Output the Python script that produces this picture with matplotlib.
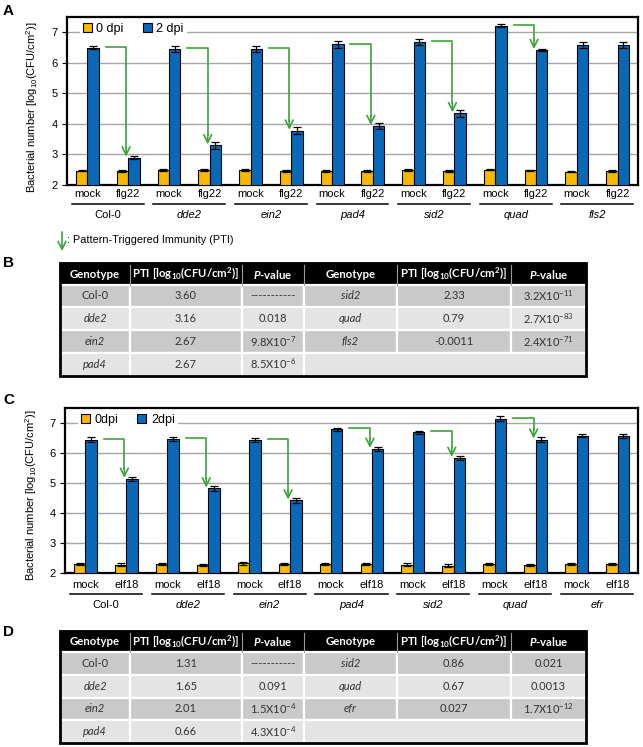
import numpy as np
import matplotlib
matplotlib.use("Agg")
import matplotlib.pyplot as plt
from matplotlib.patches import Rectangle

plt.rcParams['font.family'] = ['Liberation Sans', 'DejaVu Sans']
plt.rcParams['mathtext.fontset'] = 'custom'
plt.rcParams['mathtext.it'] = 'Lato:italic:bold'

W, H = 643, 747
YELLOW = "#f7b800"
BLUE = "#0a68b8"
GREEN = "#3ca33a"

# ---- data -------------------------------------------------------------------
genotypes_A = ["Col-0", "dde2", "ein2", "pad4", "sid2", "quad", "fls2"]
genotypes_C = ["Col-0", "dde2", "ein2", "pad4", "sid2", "quad", "efr"]
treat_A = ["mock", "flg22"]
treat_C = ["mock", "elf18"]

# order: Col-0 mock, Col-0 treated, dde2 mock, ...
A_0dpi = [2.47, 2.46, 2.50, 2.48, 2.48, 2.46, 2.46, 2.46, 2.50, 2.46, 2.50, 2.48, 2.44, 2.47]
A_0dpi_err = [0.02, 0.02, 0.03, 0.03, 0.03, 0.03, 0.02, 0.02, 0.03, 0.02, 0.02, 0.02, 0.03, 0.03]
A_2dpi = [6.50, 2.90, 6.45, 3.30, 6.45, 3.78, 6.60, 3.93, 6.68, 4.35, 7.22, 6.42, 6.57, 6.57]
A_2dpi_err = [0.05, 0.06, 0.10, 0.12, 0.10, 0.11, 0.10, 0.10, 0.09, 0.12, 0.05, 0.04, 0.10, 0.10]

C_0dpi = [2.30, 2.28, 2.30, 2.27, 2.32, 2.31, 2.30, 2.31, 2.28, 2.25, 2.30, 2.27, 2.30, 2.31]
C_0dpi_err = [0.04, 0.04, 0.04, 0.04, 0.04, 0.04, 0.04, 0.04, 0.04, 0.04, 0.04, 0.04, 0.04, 0.04]
C_2dpi = [6.45, 5.14, 6.47, 4.82, 6.43, 4.42, 6.80, 6.14, 6.70, 5.84, 7.14, 6.45, 6.58, 6.56]
C_2dpi_err = [0.07, 0.07, 0.06, 0.07, 0.07, 0.07, 0.05, 0.07, 0.05, 0.07, 0.08, 0.07, 0.06, 0.06]

B_rows = [["Col-0", "3.60", "-----------", "sid2", "2.33", "3.2X10$^{\\mathregular{-11}}$"],
          ["dde2", "3.16", "0.018", "quad", "0.79", "2.7X10$^{\\mathregular{-83}}$"],
          ["ein2", "2.67", "9.8X10$^{\\mathregular{-7}}$", "fls2", "-0.0011", "2.4X10$^{\\mathregular{-71}}$"],
          ["pad4", "2.67", "8.5X10$^{\\mathregular{-6}}$", "", "", ""]]
D_rows = [["Col-0", "1.31", "-----------", "sid2", "0.86", "0.021"],
          ["dde2", "1.65", "0.091", "quad", "0.67", "0.0013"],
          ["ein2", "2.01", "1.5X10$^{\\mathregular{-4}}$", "efr", "0.027", "1.7X10$^{\\mathregular{-12}}$"],
          ["pad4", "0.66", "4.3X10$^{\\mathregular{-4}}$", "", "", ""]]
header = ["Genotype", "PTI [log$_{\\mathregular{10}}$(CFU/cm$^{\\mathregular{2}}$)]", "$\\mathit{P}$-value"] * 2

fig = plt.figure(figsize=(W / 100, H / 100), dpi=100)

def px_axes(l, t, r, b):
    return fig.add_axes([l / W, (H - b) / H, (r - l) / W, (b - t) / H])

def bar_panel(ax, genos, treats, y0, e0, y2, e2, leg, lab_pad, geno_y, line_y):
    n = len(y0)
    x = np.arange(n)
    w = 0.28
    ax.bar(x - w / 2, np.array(y0) - 2, w, bottom=2, color=YELLOW, edgecolor="black",
           lw=0.8, yerr=e0, capsize=2.6, error_kw=dict(elinewidth=0.9, capthick=0.9),
           label=leg[0], zorder=3)
    ax.bar(x + w / 2, np.array(y2) - 2, w, bottom=2, color=BLUE, edgecolor="black",
           lw=0.8, yerr=e2, capsize=2.6, error_kw=dict(elinewidth=0.9, capthick=0.9),
           label=leg[1], zorder=3)
    ax.set_xlim(-0.5, n - 0.5)
    ax.set_ylim(2, 7.5)
    ax.set_yticks([2, 3, 4, 5, 6, 7])
    ax.yaxis.grid(True, color="#a6a6a6", lw=1)
    ax.set_axisbelow(True)
    for s in ax.spines.values():
        s.set_linewidth(1.6)
    ax.tick_params(axis="y", length=3.5, width=0.8, labelsize=8, pad=3)
    ax.set_xticks(x, treats * len(genos), fontsize=8)
    ax.tick_params(axis="x", length=0, pad=lab_pad)
    ax.set_ylabel("Bacterial number [log$_{\\mathregular{10}}$(CFU/cm$^{\\mathregular{2}}$)]", fontsize=8)
    tr = ax.get_xaxis_transform()
    for g, name in enumerate(genos):
        ax.plot([2 * g - 0.38, 2 * g + 1.38], [line_y, line_y], color="black", lw=1.1,
                transform=tr, clip_on=False)
        ax.text(2 * g + 0.5, geno_y, name, transform=tr, ha="center", va="center",
                fontsize=8, style="normal" if name == "Col-0" else "italic")
    # PTI arrows: mock 2dpi -> treated 2dpi
    for g in range(len(genos) - 1):
        m, t = 2 * g, 2 * g + 1
        ym, yt = y2[m] + 0.03, y2[t] + 0.03
        xs, xe = m + 0.45, t - 0.05
        ax.plot([xs, xe, xe], [ym, ym, yt + 0.3], color=GREEN, lw=1.2, zorder=4)
        ax.annotate("", xy=(xe, yt), xytext=(xe, yt + 0.32),
                    arrowprops=dict(arrowstyle="->", color=GREEN, lw=1.2, mutation_scale=14,
                                    shrinkA=0, shrinkB=0), zorder=4)
    lg = ax.legend(loc="upper left", bbox_to_anchor=(0.022, 0.985), ncol=2, fontsize=9,
                   frameon=True, facecolor="white", edgecolor="none", framealpha=1,
                   handlelength=0.75, handleheight=0.75, handletextpad=0.35,
                   columnspacing=1.5, borderpad=0.25, borderaxespad=0, fancybox=False)
    lg.set_zorder(6)

axA = px_axes(67, 17, 638, 185)
bar_panel(axA, genotypes_A, treat_A, A_0dpi, A_0dpi_err, A_2dpi, A_2dpi_err,
          ["0 dpi", "2 dpi"], 3.0, -0.18, -0.113)
axA.yaxis.set_label_coords(-0.048, 0.46)

axC = px_axes(65, 408, 638, 573)
bar_panel(axC, genotypes_C, treat_C, C_0dpi, C_0dpi_err, C_2dpi, C_2dpi_err,
          ["0dpi", "2dpi"], 5.0, -0.195, -0.127)
axC.yaxis.set_label_coords(-0.046, 0.47)

# ---- overlay: panel letters, PTI key, tables ----------------------------------
ov = fig.add_axes([0, 0, 1, 1], zorder=-1)
ov.set_xlim(0, W); ov.set_ylim(H, 0); ov.set_axis_off()
for letter, yy in [("A", 11), ("B", 263), ("C", 400), ("D", 632)]:
    ov.text(3, yy, letter, fontsize=11, fontweight="bold", ha="left", va="center")

ov.annotate("", xy=(62, 251), xytext=(62, 232),
            arrowprops=dict(arrowstyle="->", color=GREEN, lw=1.2, mutation_scale=14,
                            shrinkA=0, shrinkB=0))
ov.text(67, 240, ": Pattern-Triggered Immunity (PTI)", fontsize=7.8, va="center", ha="left")

COLS = [60, 130, 242, 304, 397, 511, 586]
DARK, LIGHT = "#c9c9c9", "#e4e4e4"

def draw_table(top, rows):
    hh, rh = 21.5, 22.75
    ov.add_patch(Rectangle((COLS[0], top), COLS[-1] - COLS[0], hh, color="black", zorder=1))
    for c in range(6):
        cx = (COLS[c] + COLS[c + 1]) / 2
        ov.text(cx, top + hh / 2 + 0.5, header[c], color="white", fontsize=8.2,
                fontweight="bold", family="Lato", ha="center", va="center", zorder=3)
        if c > 0:
            ov.plot([COLS[c], COLS[c]], [top + 1, top + hh], color="#9a9a9a", lw=0.8, zorder=2)
    for r, row in enumerate(rows):
        y = top + hh + r * rh
        fc = DARK if r % 2 == 0 else LIGHT
        merged = row[3] == ""
        for c in range(6):
            if merged and c >= 3:
                continue
            ov.add_patch(Rectangle((COLS[c], y), COLS[c + 1] - COLS[c], rh, facecolor=fc,
                                   edgecolor="white", lw=1.6, zorder=1))
            it = c in (0, 3) and row[c] != "Col-0"
            ov.text((COLS[c] + COLS[c + 1]) / 2, y + rh / 2, row[c], color="#333333",
                    fontsize=8, family="Lato", style="italic" if it else "normal",
                    ha="center", va="center", zorder=3)
        if merged:
            ov.add_patch(Rectangle((COLS[3], y), COLS[-1] - COLS[3], rh, facecolor=fc,
                                   edgecolor="white", lw=1.6, zorder=1))
    bottom = top + hh + len(rows) * rh
    ov.add_patch(Rectangle((COLS[0], top), COLS[-1] - COLS[0], bottom - top, fill=False,
                           edgecolor="black", lw=2, zorder=4))

draw_table(263, B_rows)
draw_table(630.5, D_rows)

fig.savefig("out.png", dpi=100)
